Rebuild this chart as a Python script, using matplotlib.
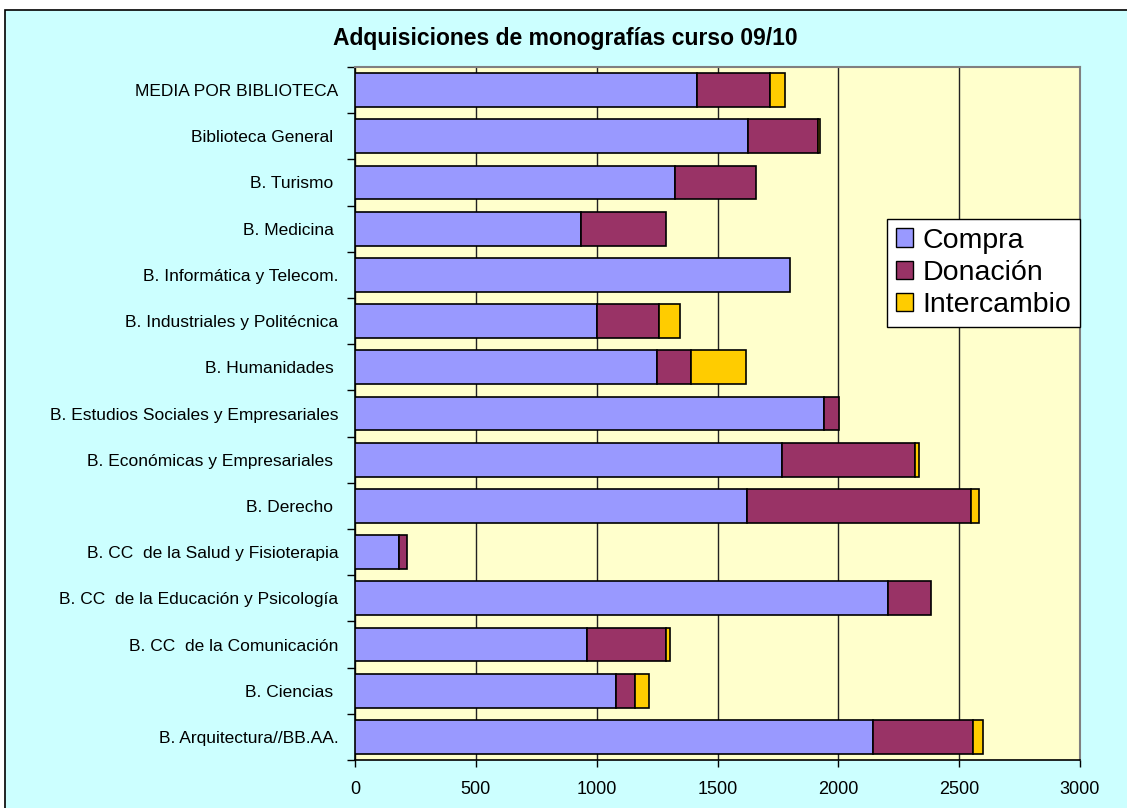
import numpy as np
import matplotlib
matplotlib.use("Agg")
import matplotlib.pyplot as plt
from matplotlib.patches import Rectangle

plt.rcParams['font.family'] = ['Liberation Sans', 'DejaVu Sans']

# Data (top to bottom as in the chart)
bibliotecas = [
    'MEDIA POR BIBLIOTECA',
    'Biblioteca General ',
    'B. Turismo ',
    'B. Medicina ',
    'B. Informática y Telecom.',
    'B. Industriales y Politécnica',
    'B. Humanidades ',
    'B. Estudios Sociales y Empresariales',
    'B. Económicas y Empresariales ',
    'B. Derecho ',
    'B. CC  de la Salud y Fisioterapia',
    'B. CC  de la Educación y Psicología',
    'B. CC  de la Comunicación',
    'B. Ciencias ',
    'B. Arquitectura//BB.AA.',
]
compra = [1416, 1627, 1324, 935, 1800, 1003, 1249, 1939, 1767, 1620, 183, 2204, 960, 1080, 2144]
donacion = [302, 287, 334, 352, 0, 255, 142, 62, 549, 929, 33, 179, 327, 78, 412]
intercambio = [62, 9, 0, 0, 0, 85, 228, 0, 19, 31, 0, 0, 18, 57, 43]

series = [('Compra', compra, '#9999FF'),
          ('Donación', donacion, '#993366'),
          ('Intercambio', intercambio, '#FFCC00')]

fig = plt.figure(figsize=(11.27, 8.08), dpi=100, facecolor='white')

# outer chart area (Excel style)
fig.patches.append(Rectangle((5 / 1127, -0.05), 1.2, 1 - 10 / 808 + 0.05,
                             transform=fig.transFigure, facecolor='#CCFFFF',
                             edgecolor='black', linewidth=1.2, zorder=-10))

ax = fig.add_axes([355 / 1127, 1 - 760 / 808, (1080 - 355) / 1127, (760 - 67) / 808])
ax.set_facecolor('#FFFFCC')

y = np.arange(len(bibliotecas))
left = np.zeros(len(bibliotecas))
handles = []
for name, vals, col in series:
    vals = np.array(vals, dtype=float)
    m = vals > 0
    ax.barh(y[m], vals[m], left=left[m], height=0.73, color=col,
            edgecolor='black', linewidth=1.2, zorder=3)
    handles.append(Rectangle((0, 0), 1, 1, facecolor=col, edgecolor='black', linewidth=1.0))
    left += vals

ax.set_xlim(0, 3000)
ax.set_ylim(len(bibliotecas) - 0.5, -0.5)
ax.set_xticks(np.arange(0, 3001, 500))
ax.set_yticks(y)
ax.set_yticklabels(bibliotecas, fontsize=12.5)
ax.set_yticks(np.arange(-0.5, len(bibliotecas), 1), minor=True)
ax.tick_params(axis='y', which='major', length=0, pad=12)
ax.tick_params(axis='y', which='minor', length=6, width=1, direction='out')
ax.tick_params(axis='x', which='major', length=5, width=1, direction='out',
               labelsize=13, pad=10)

ax.xaxis.grid(True, color='#222222', linewidth=1.0, zorder=0)
ax.set_axisbelow(True)
for s in ['top', 'right']:
    ax.spines[s].set_color('#808080')
    ax.spines[s].set_linewidth(1.5)
for s in ['left', 'bottom']:
    ax.spines[s].set_color('black')
    ax.spines[s].set_linewidth(1.2)

fig.text(565 / 1127, 1 - 38 / 808, 'Adquisiciones de monografías curso 09/10',
         ha='center', va='center', fontsize=16.5, fontweight='bold')

leg = fig.legend(handles, [s[0] for s in series], loc='upper right',
                 bbox_to_anchor=(1080 / 1127, 1 - 219 / 808),
                 fontsize=20.5, frameon=True, fancybox=False, framealpha=1,
                 edgecolor='black', handlelength=0.6, handleheight=0.6,
                 handletextpad=0.35, labelspacing=0.22, borderpad=0.3,
                 borderaxespad=0)
leg.get_frame().set_linewidth(1.0)

fig.savefig('out.png', dpi=100, facecolor=fig.get_facecolor())
